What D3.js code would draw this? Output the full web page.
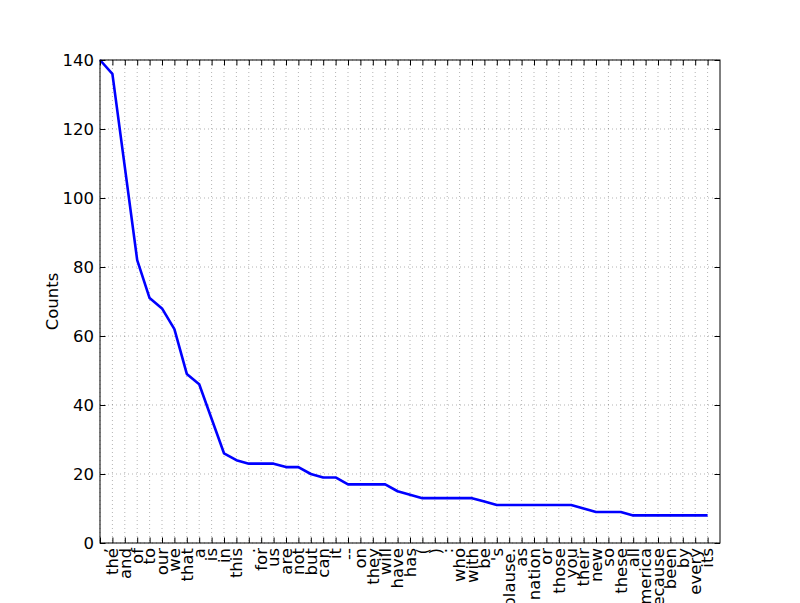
<!DOCTYPE html>
<html>
<head>
<meta charset="utf-8">
<script src="https://cdn.jsdelivr.net/npm/d3@7"></script>
<style>
    body { margin: 0; background: #fff; }
    svg { display: block; font-family: "DejaVu Sans", sans-serif; }
    .grid line { stroke: #000; stroke-opacity: 0.5; stroke-width: 0.6; stroke-dasharray: 1, 3; }
</style>
</head>
<body>
<svg id="chart" width="800" height="603"></svg>
<script>
/*
    Word samples (tick labels) and their counts
 */
var samples = [",", "the", "and", "of", "to", "our", "we", "that", "a", "is",
    "in", "this", ".", "for", "us", "are", "not", "but", "can", "it",
    "--", "on", "they", "will", "have", "has", "(", ")", ":", "who",
    "with", "be", "'s", "Applause.", "as", "nation", "or", "those", "you", "their",
    "new", "so", "these", "all", "America", "because", "been", "by", "every", "its"];

var counts = [140, 136, 109, 82, 71, 68, 62, 49, 46, 36,
    26, 24, 23, 23, 23, 22, 22, 20, 19, 19,
    17, 17, 17, 17, 15, 14, 13, 13, 13, 13,
    13, 12, 11, 11, 11, 11, 11, 11, 11, 10,
    9, 9, 9, 8, 8, 8, 8, 8, 8, 8];

var yTicks = [0, 20, 40, 60, 80, 100, 120, 140];

var margin = {left: 100, right: 80, top: 60, bottom: 60};
var width = 800 - margin.left - margin.right;
var height = 603 - margin.top - margin.bottom;
var fontSize = 16.5;
var tickLen = 5.5;

var svg = d3.select("#chart");

var x = d3.scaleLinear().domain([0, 50]).range([0, width]);
var y = d3.scaleLinear().domain([0, 140]).range([height, 0]);

var g = svg.append("g")
    .attr("transform", "translate(" + margin.left + "," + margin.top + ")");

// dotted grid
var grid = g.append("g").attr("class", "grid");

grid.selectAll(".vgrid")
    .data(d3.range(samples.length))
    .enter().append("line")
    .attr("x1", function(d){ return x(d); })
    .attr("x2", function(d){ return x(d); })
    .attr("y1", 0)
    .attr("y2", height);

grid.selectAll(".hgrid")
    .data(yTicks)
    .enter().append("line")
    .attr("x1", 0)
    .attr("x2", width)
    .attr("y1", function(d){ return y(d); })
    .attr("y2", function(d){ return y(d); });

// the frequency line
var line = d3.line()
    .x(function(d, i){ return x(i); })
    .y(function(d){ return y(d); });

g.append("path")
    .datum(counts)
    .attr("d", line)
    .attr("fill", "none")
    .attr("stroke", "#0000ff")
    .attr("stroke-width", 2.6)
    .attr("stroke-linejoin", "round");

// inward ticks on all four sides
var bottomAxis = d3.axisBottom(x)
    .tickValues(d3.range(samples.length))
    .tickSizeInner(-tickLen).tickSizeOuter(0)
    .tickFormat("");
var topAxis = d3.axisTop(x)
    .tickValues(d3.range(samples.length))
    .tickSizeInner(-tickLen).tickSizeOuter(0)
    .tickFormat("");
var leftAxis = d3.axisLeft(y)
    .tickValues(yTicks)
    .tickSizeInner(-tickLen).tickSizeOuter(0)
    .tickPadding(tickLen + 0.5);
var rightAxis = d3.axisRight(y)
    .tickValues(yTicks)
    .tickSizeInner(-tickLen).tickSizeOuter(0)
    .tickFormat("");

var gb = g.append("g").attr("transform", "translate(0," + height + ")").call(bottomAxis);
var gt = g.append("g").call(topAxis);
var gl = g.append("g").call(leftAxis);
var gr = g.append("g").attr("transform", "translate(" + width + ",0)").call(rightAxis);

[gb, gt, gl, gr].forEach(function(a){
    a.select(".domain").remove();
    a.selectAll(".tick line").attr("stroke", "#000");
});

gl.selectAll(".tick text")
    .attr("font-size", fontSize)
    .attr("font-family", "DejaVu Sans")
    .attr("fill", "#000");

// vertical word labels (long ones run off the bottom, as in the original)
g.append("g")
    .selectAll("text")
    .data(samples)
    .enter().append("text")
    .attr("transform", function(d, i){
        return "translate(" + x(i) + "," + (height + 5) + ") rotate(-90)";
    })
    .attr("text-anchor", "end")
    .attr("dy", "0.35em")
    .attr("font-size", fontSize)
    .attr("fill", "#000")
    .text(function(d){ return d; });

// frame
g.append("rect")
    .attr("width", width)
    .attr("height", height)
    .attr("fill", "none")
    .attr("stroke", "#000")
    .attr("stroke-width", 1);

// y label
svg.append("text")
    .attr("transform", "translate(58," + (margin.top + height / 2) + ") rotate(-90)")
    .attr("text-anchor", "middle")
    .attr("font-size", fontSize)
    .attr("fill", "#000")
    .text("Counts");
</script>
</body>
</html>
